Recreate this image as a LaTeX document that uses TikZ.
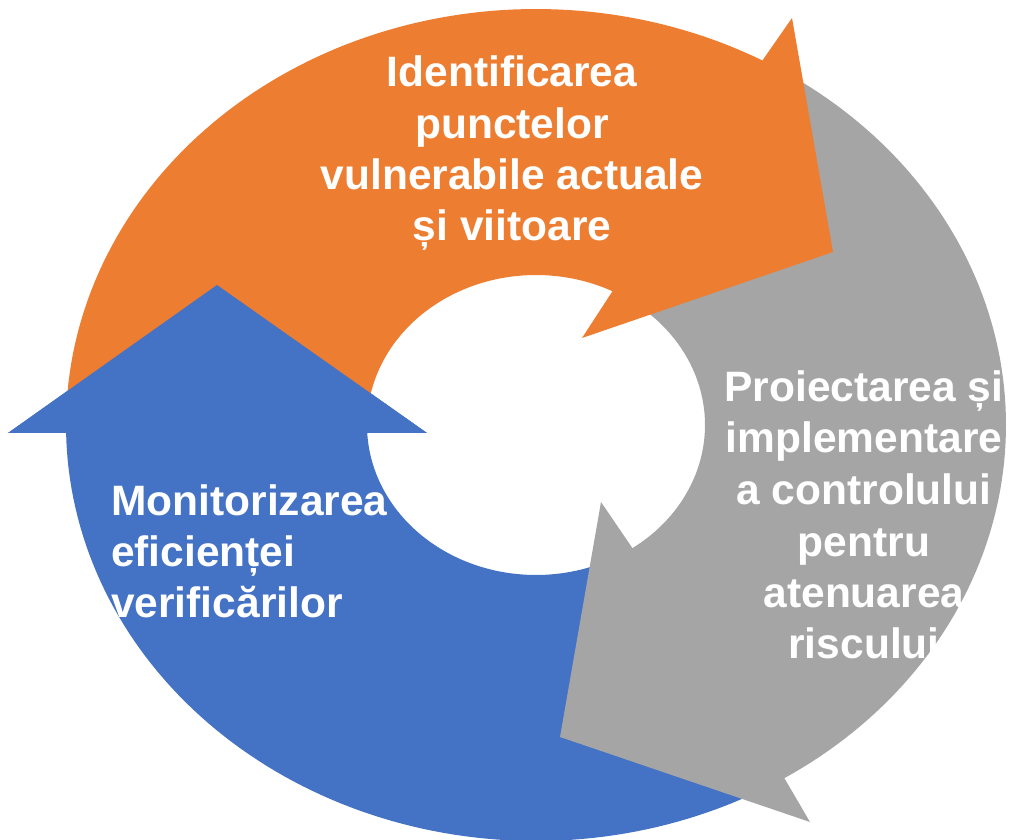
\documentclass[tikz,border=0pt]{standalone}
\usepackage{fontspec}
\setmainfont{Liberation Sans}
\definecolor{orangec}{HTML}{ED7D31}
\definecolor{grayc}{HTML}{A5A5A5}
\definecolor{bluec}{HTML}{4472C4}
\tikzset{
  txt/.style={text=white, inner sep=0pt, font=\bfseries\fontsize{42.5}{51}\selectfont},
}
\begin{document}
\begin{tikzpicture}[x=1pt,y=1pt]
\useasboundingbox (0,0) rectangle (1009,839);
% blue arrow (bottom-left, pointing up)
\fill[bluec] plot[domain=-62:-178.9, samples=90] ({536+470*cos(\x)}, {414+416*sin(\x)})
  -- (8,406) -- (217,554) -- (427,406)
  -- plot[domain=-177:-62, samples=80] ({536+169*cos(\x)}, {414+150*sin(\x)}) -- cycle;
% gray arrow (right, pointing down-left)
\fill[grayc] plot[domain=57:-58.1, samples=90] ({536+470*cos(\x)}, {414+416*sin(\x)})
  -- (810,17) -- (560,102) -- (601,337)
  -- plot[domain=-55.2:57, samples=80] ({536+169*cos(\x)}, {414+150*sin(\x)}) -- cycle;
% orange arrow (top, pointing right)
\fill[orangec] plot[domain=178:61.2, samples=90] ({536+470*cos(\x)}, {414+416*sin(\x)})
  -- (792,821) -- (833,587) -- (582,501)
  -- plot[domain=63.1:178, samples=80] ({536+169*cos(\x)}, {414+150*sin(\x)}) -- cycle;
% blue arrowhead over the start of the orange arrow
\fill[bluec] (8,406) -- (217,554) -- (427,406) -- cycle;
% texts
\node[txt, anchor=base] (o1) at (512,752.3) {Identificarea};
\node[txt, anchor=base] (o2) at (512,700.7) {punctelor};
\node[txt, anchor=base] (o3) at (512,649.7) {vulnerabile actuale};
\node[txt, anchor=base] (o4) at (512,598.3) {și viitoare};
\node[txt, anchor=base] (g1) at (864,437) {Proiectarea și};
\node[txt, anchor=base] (g2) at (864,386) {implementare};
\node[txt, anchor=base] (g3) at (864,334.5) {a controlului};
\node[txt, anchor=base] (g4) at (864,283) {pentru};
\node[txt, anchor=base] (g5) at (864,232) {atenuarea};
\node[txt, anchor=base] (g6) at (864,181) {riscului};
\node[txt, anchor=base west] (b1) at (111,324) {Monitorizarea};
\node[txt, anchor=base west] (b2) at (111,273) {eficienței};
\node[txt, anchor=base west] (b3) at (111,222) {verificărilor};
\end{tikzpicture}
\end{document}
